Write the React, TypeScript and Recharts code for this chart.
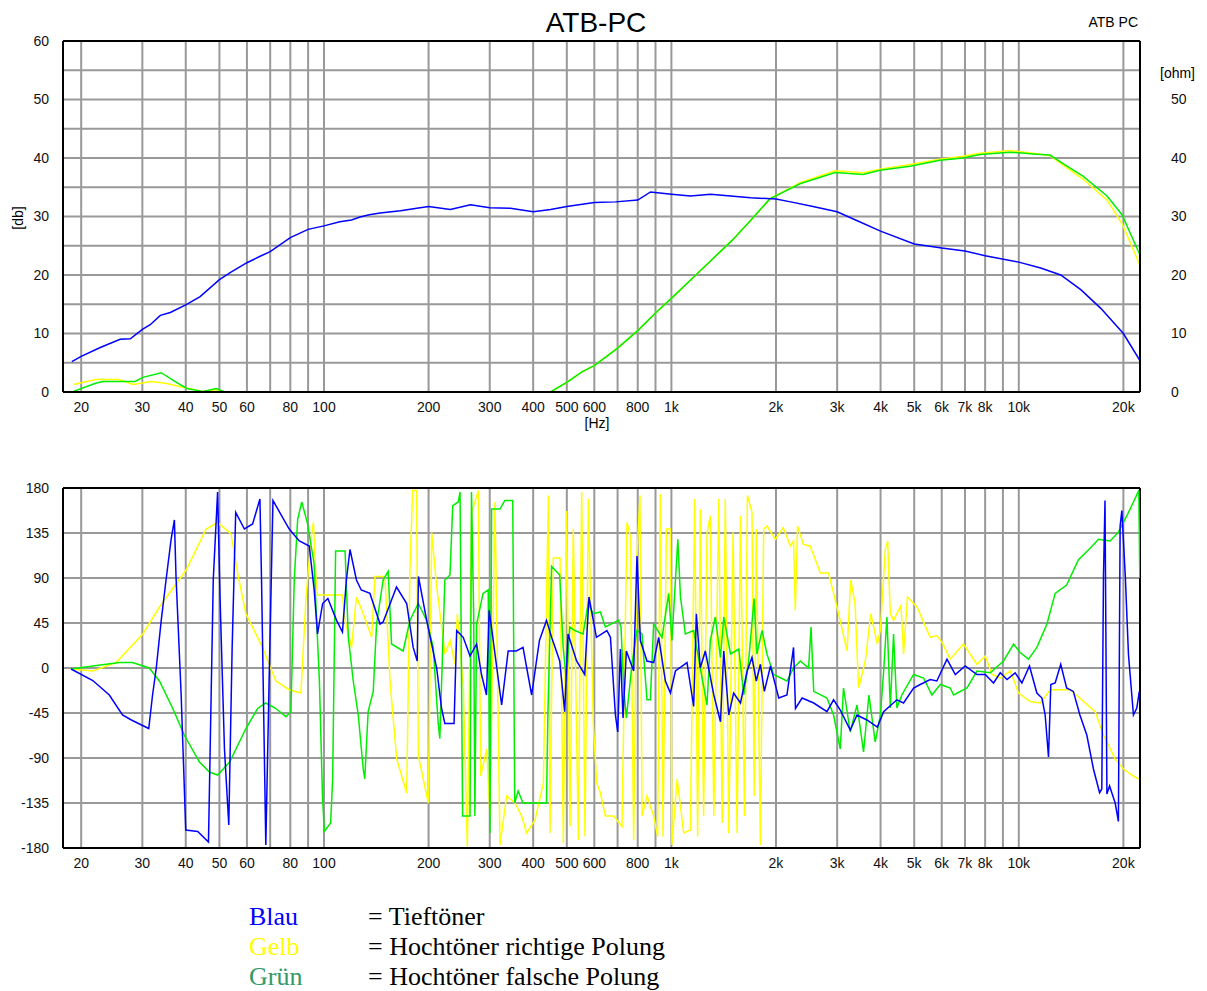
import React from 'react';
import { LineChart, Line, XAxis, YAxis, CartesianGrid, ReferenceLine } from 'recharts';

// ---------- axes ----------
const X_MIN = 17.73;
const X_MAX = 22330;
const FREQ_GRID = [20, 30, 40, 50, 60, 70, 80, 90, 100, 200, 300, 400, 500, 600, 700, 800, 900, 1000, 2000, 3000, 4000, 5000, 6000, 7000, 8000, 9000, 10000, 20000];
const FREQ_LABELS: Record<number, string> = {
  20: '20', 30: '30', 40: '40', 50: '50', 60: '60', 80: '80', 100: '100', 200: '200', 300: '300', 400: '400',
  500: '500', 600: '600', 800: '800', 1000: '1k', 2000: '2k', 3000: '3k', 4000: '4k', 5000: '5k', 6000: '6k',
  7000: '7k', 8000: '8k', 10000: '10k', 20000: '20k',
};
const DB_TICKS = [0, 5, 10, 15, 20, 25, 30, 35, 40, 45, 50, 55, 60];
const OHM_TICKS = [0, 10, 20, 30, 40, 50];
const PHASE_TICKS = [-180, -135, -90, -45, 0, 45, 90, 135, 180];

// ---------- magnitude [Hz, dB] ----------
const magBlau: [number, number][] = [
  [18.8, 5.2], [20, 6.1], [22.7, 7.6], [25.9, 9.0], [27.7, 9.1], [30, 10.7], [31.6, 11.5], [33.8, 13.1], [36.1, 13.6],
  [40, 14.9], [44, 16.3], [50, 19.2], [53.7, 20.4], [60, 22.1], [65.5, 23.2], [70, 24.0], [80, 26.4], [90, 27.8],
  [100, 28.4], [111, 29.1], [120, 29.4], [127, 29.9], [135, 30.3], [145, 30.6], [166, 31.0], [185, 31.4], [200, 31.7],
  [231, 31.2], [264, 32.0], [300, 31.5], [344, 31.4], [400, 30.8], [449, 31.2], [500, 31.7], [600, 32.4], [690, 32.5],
  [800, 32.8], [871, 34.2], [1000, 33.8], [1135, 33.5], [1296, 33.8], [1480, 33.5], [1690, 33.2], [2000, 33.0],
  [2204, 32.5], [2517, 31.8], [3000, 30.8], [3390, 29.4], [4000, 27.5], [5000, 25.3], [6000, 24.6], [7000, 24.1],
  [8000, 23.3], [10000, 22.2], [11560, 21.2], [13200, 20.0], [15080, 17.5], [17220, 14.3], [20000, 10.0], [22300, 5.4],
];
const magGelbLow: [number, number][] = [
  [19, 1.3], [22, 2.15], [25.7, 2.15], [28.2, 1.3], [31.8, 1.8], [35, 1.5], [40.3, 0.65], [44.7, 0.1], [49, 0.4], [51, 0.1],
];
const magGruenLow: [number, number][] = [
  [19, 0.1], [22, 1.5], [23.1, 1.8], [28.6, 1.8], [30.1, 2.5], [34, 3.3], [37.2, 1.8], [40.3, 0.6], [44.8, 0.1], [49, 0.6], [51.7, 0.0],
];
const magGruenHigh: [number, number][] = [
  [449, 0], [505, 1.8], [554, 3.5], [600, 4.5], [700, 7.5], [800, 10.5], [900, 13.5], [1000, 16], [1200, 20.5],
  [1500, 26], [1700, 29.5], [1920, 33], [2346, 35.6], [2958, 37.5], [3560, 37.2], [3985, 37.9], [4863, 38.6],
  [5933, 39.6], [6910, 40.0], [7733, 40.6], [9434, 41.0], [10987, 40.7], [12295, 40.5], [13761, 38.6], [15301, 36.9],
  [17946, 33.5], [19820, 30.3], [22300, 23.5],
];
const magGelbHigh: [number, number][] = [
  [449, 0], [505, 1.8], [554, 3.5], [600, 4.5], [700, 7.5], [800, 10.5], [900, 13.5], [1000, 16], [1200, 20.5],
  [1500, 26], [1700, 29.5], [1920, 33], [2346, 35.8], [2958, 37.8], [3560, 37.5], [3985, 38.1], [4863, 38.9],
  [5933, 39.8], [6910, 40.3], [7733, 40.8], [9434, 41.3], [10987, 40.8], [12295, 40.4], [13761, 38.3], [15301, 36.4],
  [17946, 32.8], [19820, 28.8], [22300, 21.7],
];

// ---------- phase [Hz, deg] ----------
const phaseBlau: [number, number][] = [
  [18.7, -1], [21.6, -12.5], [24.1, -27], [26.3, -47], [27.9, -52], [31.3, -60.5], [32.1, -27], [32.9, 0], [34.0, 47.6],
  [35.1, 88], [36.3, 128.7], [37.1, 148], [37.5, 91.5], [38.8, -27], [40.0, -162], [43.3, -163.5], [46.5, -174],
  [48.0, 88], [49.4, 176], [50.2, 71], [51.7, -81], [53.2, -157], [54.4, 20.6], [55.7, 155.7], [59.0, 139], [62.3, 144],
  [65.4, 169], [66.1, 88], [68.0, -177], [69.5, -13], [71.3, 167.5], [79.4, 139], [84.9, 127], [90.7, 122], [93.7, 78],
  [95.8, 34], [99.1, 64.5], [102.6, 69.5], [108.7, 47.6], [113, 36], [116, 88], [118.8, 118.5], [124, 88], [128, 78],
  [135.6, 74.6], [145, 44], [148, 46], [161.7, 81], [173, 64.5], [180.6, 20.6], [185.5, 7], [187, 91.5], [197.5, 47.6],
  [211, 0], [218, -40.5], [222.8, -55.5], [236.8, -55.5], [241, 37.5], [251.6, 30.7], [263.2, 12], [275, 24], [284, -6.5],
  [293.6, -27], [298.8, 57.7], [307, 27.5], [324.6, -37], [339, 17], [358, 17], [374, 20.6], [396, -27], [417, 27.5],
  [437, 47.6], [452, 30.7], [477, 7], [493, -43.6], [504, 34], [533.5, 7], [563, -6.5], [579, 71], [608.5, 30.7],
  [652, 37.5], [667.6, 30.7], [690, -47], [700.7, -64], [713, 19], [725.7, -50], [742, 17], [778.7, -3], [796, 112],
  [814, 27.5], [850.6, 7], [889, 5.4], [919, 30.7], [961, -13], [993.6, -25], [1027, -3], [1109, 5.4], [1159, -38.5],
  [1180, 54.3], [1211, 0], [1252, 17], [1324.6, -27], [1384.5, -53.8], [1415, 17], [1462.6, -47], [1510.7, -25],
  [1580.6, -35], [1652.5, -3], [1706, 10.5], [1755.5, -13], [1803.6, 3.7], [1851.6, -23.4], [1928.5, 2], [2037, -30],
  [2150.8, -27], [2247, 20.6], [2276, -40.5], [2377.5, -30], [2568.6, -35], [2804, -43.6], [2930, -31.8], [3062.6, -42],
  [3272, -62], [3422, -47], [3654, -52], [3915.6, -59], [4083, -43.6], [4457, -31.8], [4659, -35], [4980, -20],
  [5204, -16.5], [5559, -11.5], [5809, -13], [6213, 8.8], [6564, -6.5], [7012, 2], [7577, -6.5], [8006, -6.5],
  [8458, -15], [8843, -4.8], [9247, -11.5], [9762, -4.8], [10207, -15], [10733, 2], [11272, -25], [11660, -30],
  [11910, -47], [12176, -89], [12366, -16.5], [12725, -15], [13203, 3.7], [13730, -20], [14354, -23.4], [14993, -47],
  [15695, -67], [16401, -101], [17085, -124.7], [17335, -121], [17529, 91.5], [17708, 167.5], [17933, -126],
  [18250, -118], [18941, -135], [19352, -153.4], [19573, 142], [19800, 157.4], [20260, 91.5], [20686, 13.5],
  [21381, -47], [21859, -40], [22230, -23.4],
];
const phaseGelb: [number, number][] = [
  [18.7, -1], [21.6, -3], [25.2, 5.4], [30.1, 34], [33.6, 61], [40.1, 98], [45.8, 139], [49.4, 145.5], [54, 134],
  [56.4, 95], [59.6, 54.3], [66.5, 20.6], [72.7, -13], [79.4, -21.7], [85.8, -25], [88.8, 71], [91.7, 128.7],
  [93.2, 145.5], [94.9, 88], [95.8, 73], [113, 73], [115, 47.6], [120, 20.5], [124, 71], [129.8, 54], [137.1, 30.7],
  [140.2, 91.5], [149.8, 91.5], [154.9, -13.5], [161.9, -91], [173, -125], [176.8, 100], [180, 177.6], [184.8, 177.6],
  [186.8, -87.5], [199.7, -135], [204.2, 135.4], [211.1, 81], [223, 14], [230.6, 27.5], [238.4, 3.7], [242, 54],
  [251.8, -20], [258.6, -179], [266.1, 155.7], [278.1, 177.6], [282.5, -108], [294, -81], [300.5, -148], [310.6, 166],
  [321.1, -177], [335.6, -128], [354.6, -135], [370.7, -148], [383.2, -165], [405, -152], [428, -115], [442.4, 172.6],
  [447.2, -165], [457.2, 110], [477.9, 110], [488.6, -175], [499.5, 157], [510.7, -158.5], [522, 139], [539.6, -172],
  [551.7, 176], [564, -168.6], [576.7, 169], [596.1, -57], [609.5, -115], [624.5, -125], [645.6, -148], [682.6, -148],
  [720.7, -158.5], [745, 145.5], [762, 132], [778.7, -172], [796, 112], [812, 172.6], [823, -148], [850.6, -128],
  [889, -148], [913, -168.6], [929, 174], [946, -168.6], [967, 139], [993.6, 139], [1003.6, -177], [1038.6, -111],
  [1085, -165], [1134, -162], [1167, 169], [1190, -168.6], [1211.5, 159], [1237.8, -148], [1266.5, 135.4],
  [1294, 152.3], [1324.6, -148], [1369, 169], [1400, -155], [1429.5, 169], [1462.6, -165], [1505, 135.4],
  [1545.6, -165], [1580.6, 152.3], [1623.7, -148], [1655, 172.6], [1706, 155.7], [1730, -128], [1755, 139],
  [1803.6, -177], [1843.5, 139], [1884, 142], [1991, 128.7], [2098, 140.5], [2200, 122], [2247, 127], [2273, 57.7],
  [2307.5, 142], [2399, 123.6], [2506, 122], [2685, 95], [2835, 95], [3029, 54.3], [3204, 17], [3282, 88],
  [3378, 64.5], [3458, -20], [3616, 7], [3748, 54.3], [3915.6, 24], [3994, 37.5], [4128, 118.5], [4192, 127],
  [4267, 54.3], [4360, 47.6], [4580, 62.7], [4659, 14], [4782, 71], [5092, 61], [5559, 30.7], [5809, 32.4],
  [6015, 25.6], [6348, 8.8], [6934, 24], [7577, 3.7], [8006, 12], [8376, -6.5], [8843, -10], [9456, -3], [9983, -25],
  [10790, -33.5], [11537, -35], [12314, -21.7], [14055, -21.7], [15366, -33.5], [16588, -43.6], [17529, -67],
  [18941, -91], [20014, -101], [21381, -108], [22154, -111],
];
const phaseGruen: [number, number][] = [
  [18.7, -1], [21.6, 2], [25.8, 5.4], [28.1, 5.4], [31.4, 0], [33.6, -13], [36.7, -40.5], [39.6, -67], [43.8, -94],
  [46.8, -104], [49.4, -107], [53.5, -94], [59.6, -60.5], [64.4, -40.5], [68, -35], [72.7, -40.5], [77.7, -48.7],
  [80.3, -43.6], [82.1, 88], [84, 149], [86.3, 166], [89.5, 145.5], [93.6, 105], [97, -13], [99, -128], [100.2, -163.5],
  [104.5, -155], [105.9, -111], [108, 117], [115, 117], [117.5, 30.7], [121.4, -13], [125.5, -47], [129.7, -101],
  [131, -111], [134, -43.6], [138.6, -23.4], [141.7, 44], [148, 88], [153, 96.6], [156.5, 24], [169, 17], [176.7, 47.6],
  [186.8, 64.5], [197.5, 47.6], [206.3, 20.6], [213, -53.8], [215.5, -70.6], [222.8, 88], [230.5, 93], [234.7, 162.4],
  [243.6, 166], [246.4, 176], [250.6, -148], [263.2, -148], [265.8, 176], [269.7, 54.3], [271.8, -148], [275, 44],
  [287, 74.6], [297, 78], [300.4, -165], [303.7, 159], [321, 159], [331.6, 167.5], [349.4, 167.5], [354, -135],
  [362, -123], [374, -135], [437, -135], [441, -47], [452, 101.6], [477, 93], [488, 20.6], [499, -13], [510, 41],
  [527, 37.5], [557, 34], [576, 64.5], [595, 54.3], [624.5, 56], [645.6, 41], [705, 47.6], [716, 41], [729, -20],
  [742, -50], [770, 3.7], [796, 37.5], [823, 34], [850.6, -31.8], [870, -31.8], [889, 44], [940, 30.7], [982, 74.6],
  [1003.6, 27.5], [1043.6, 128.7], [1062, 71], [1097, 34], [1159, 37.5], [1211, 0], [1266.5, -37], [1294, 27.5],
  [1338, 51], [1384, 10.5], [1415, 51], [1479.5, 14], [1563, 19], [1615.6, -27], [1668.7, 7], [1730, 69.5], [1762, 14],
  [1823.6, 37.5], [1884, 14], [1969, -6.5], [2150.8, -13], [2247, 0], [2349.4, 7], [2483, 0], [2523, 41],
  [2568.6, -23.4], [2804, -30], [2930, -47], [3062.6, -81], [3129, -20], [3272, -64], [3422, -37], [3574, -84],
  [3703, -27], [3861, -74], [3997, -47], [4083, -3], [4173, 51], [4267, -40], [4360, 34], [4457, -40], [4606, -27],
  [4980, -6.5], [5320, -10], [5622, -27], [5944, -16.5], [6348, -20], [6490, -27], [7095, -20], [7577, -3],
  [8279, -4.8], [9037, 7], [9665, 24], [10091, 15.5], [10666, 8.8], [11272, 20.6], [12052, 44], [12725, 74.6],
  [13730, 83], [14854, 108.4], [16065, 120], [16962, 128.7], [18321, 127], [19315, 135.4], [20473, 152.3],
  [21381, 166], [22154, 177.6], [22300, 90],
];

// ---------- legend ----------
const legendItems = [
  { name: 'Blau', color: '#0000ff', text: '= Tieftöner' },
  { name: 'Gelb', color: '#ffff00', text: '= Hochtöner richtige Polung' },
  { name: 'Grün', color: '#339966', text: '= Hochtöner falsche Polung' },
];

const FONT = '"Liberation Sans", Arial, Helvetica, sans-serif';
const SERIF = '"Liberation Serif", "Times New Roman", serif';
const BLUE = '#0000ff';
const YELLOW = '#ffff00';
const GREEN = '#00ee00';
const GRID = '#999999';

const pts = (a: [number, number][]) => a.map(([f, v]) => ({ f, v }));
const freqFmt = (v: number) => FREQ_LABELS[v] ?? '';
const tickStyle = { fontSize: 14, fontFamily: FONT, fill: '#111' };

export default function App() {
  return (
    <div style={{ position: 'absolute', left: 0, top: 0, width: 1207, height: 991, background: '#fff', overflow: 'hidden' }}>
      {/* magnitude */}
      <div style={{ position: 'absolute', left: 0, top: 0 }}>
        <LineChart width={1207} height={440} margin={{ top: 41, right: 0, left: 0, bottom: 0 }}>
          <CartesianGrid stroke={GRID} strokeWidth={2} yAxisId="l" />
          <XAxis dataKey="f" type="number" scale="log" domain={[X_MIN, X_MAX]} allowDataOverflow ticks={FREQ_GRID}
            interval={0} tickFormatter={freqFmt} height={48} tickLine={false} tickMargin={4} tick={tickStyle}
            axisLine={{ stroke: '#000', strokeWidth: 2 }} />
          <YAxis yAxisId="l" type="number" domain={[0, 60]} ticks={DB_TICKS} interval={0} width={63}
            tickFormatter={(v: number) => (v % 10 === 0 ? String(v) : '')} tickLine={false} tickMargin={8}
            tick={tickStyle} axisLine={{ stroke: '#000', strokeWidth: 2 }} allowDataOverflow />
          <YAxis yAxisId="r" orientation="right" type="number" domain={[0, 60]} ticks={OHM_TICKS} interval={0} width={67}
            tickLine={false} tickMargin={25} tick={{ ...tickStyle, textAnchor: 'start' }} allowDataOverflow
            axisLine={{ stroke: '#000', strokeWidth: 2 }} />
          <ReferenceLine yAxisId="l" y={60} stroke="#000" strokeWidth={2} />
          <Line yAxisId="l" data={pts(magGelbLow)} dataKey="v" stroke={YELLOW} strokeWidth={1.5} dot={false} isAnimationActive={false} />
          <Line yAxisId="l" data={pts(magGelbHigh)} dataKey="v" stroke={YELLOW} strokeWidth={1.5} dot={false} isAnimationActive={false} />
          <Line yAxisId="l" data={pts(magGruenLow)} dataKey="v" stroke={GREEN} strokeWidth={1.5} dot={false} isAnimationActive={false} />
          <Line yAxisId="l" data={pts(magGruenHigh)} dataKey="v" stroke={GREEN} strokeWidth={1.5} dot={false} isAnimationActive={false} />
          <Line yAxisId="r" data={pts(magBlau)} dataKey="v" stroke={BLUE} strokeWidth={1.5} dot={false} isAnimationActive={false} />
        </LineChart>
      </div>
      {/* phase */}
      <div style={{ position: 'absolute', left: 0, top: 440 }}>
        <LineChart width={1207} height={440} margin={{ top: 48, right: 67, left: 0, bottom: 0 }}>
          <CartesianGrid stroke={GRID} strokeWidth={2} />
          <XAxis dataKey="f" type="number" scale="log" domain={[X_MIN, X_MAX]} allowDataOverflow ticks={FREQ_GRID}
            interval={0} tickFormatter={freqFmt} height={32} tickLine={false} tickMargin={4} tick={tickStyle}
            axisLine={{ stroke: '#000', strokeWidth: 2 }} />
          <YAxis type="number" domain={[-180, 180]} ticks={PHASE_TICKS} interval={0} width={63} tickLine={false}
            tickMargin={8} tick={tickStyle} axisLine={{ stroke: '#000', strokeWidth: 2 }} allowDataOverflow />
          <ReferenceLine y={180} stroke="#000" strokeWidth={2} />
          <ReferenceLine x={X_MAX} stroke="#000" strokeWidth={2} />
          <Line data={pts(phaseGelb)} dataKey="v" stroke={YELLOW} strokeWidth={1.5} dot={false} isAnimationActive={false} />
          <Line data={pts(phaseGruen)} dataKey="v" stroke={GREEN} strokeWidth={1.5} dot={false} isAnimationActive={false} />
          <Line data={pts(phaseBlau)} dataKey="v" stroke={BLUE} strokeWidth={1.5} dot={false} isAnimationActive={false} />
        </LineChart>
      </div>
      {/* texts */}
      <svg width={1207} height={991} style={{ position: 'absolute', left: 0, top: 0, pointerEvents: 'none' }}>
        <text x={596} y={32} textAnchor="middle" fontFamily={FONT} fontSize={28} fill="#000">ATB-PC</text>
        <text x={1138} y={27} textAnchor="end" fontFamily={FONT} fontSize={14} fill="#000">ATB PC</text>
        <text x={1160} y={78} fontFamily={FONT} fontSize={14} fill="#000">[ohm]</text>
        <text x={0} y={0} transform="translate(23,218) rotate(-90)" textAnchor="middle" fontFamily={FONT} fontSize={14} fill="#000">[db]</text>
        <text x={597} y={428} textAnchor="middle" fontFamily={FONT} fontSize={14} fill="#000">[Hz]</text>
        {legendItems.map((it, i) => (
          <g key={it.name}>
            <text x={249} y={925 + i * 30} fontFamily={SERIF} fontSize={26} fill={it.color}>{it.name}</text>
            <text x={368} y={925 + i * 30} fontFamily={SERIF} fontSize={26} fill="#000">{it.text}</text>
          </g>
        ))}
      </svg>
    </div>
  );
}
